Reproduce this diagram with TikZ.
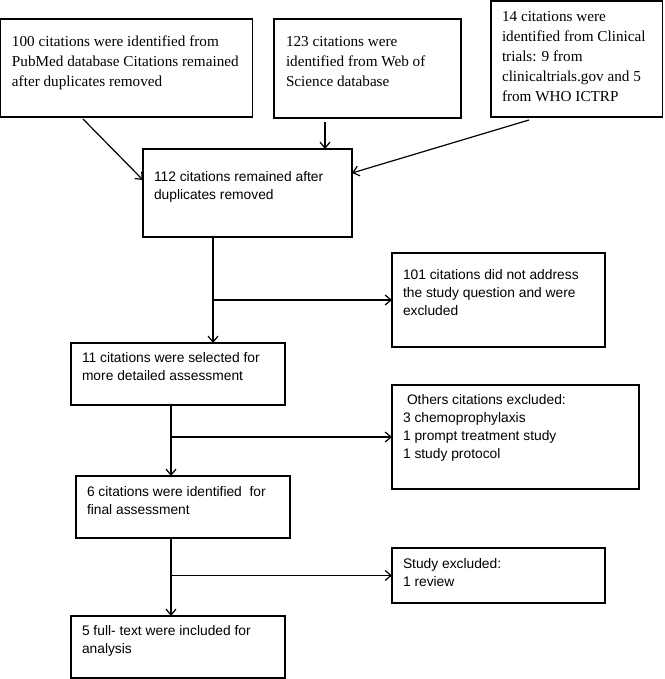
\documentclass[tikz,border=0pt]{standalone}
\usepackage{fontspec}
\setmainfont{Liberation Serif}
\newfontfamily\arialf{Liberation Sans}
\usetikzlibrary{arrows.meta}
\newcommand{\sftxt}[2]{\parbox[t]{#1}{\arialf\fontsize{13.8}{18}\selectfont #2}}
\newcommand{\rmtxt}[2]{\parbox[t]{#1}{\rmfamily\fontsize{15.2}{20}\selectfont #2}}
\begin{document}
\begin{tikzpicture}[x=1pt,y=-1pt,
  box/.style={draw=black, line width=1.1pt, anchor=north west, inner sep=0pt, outer sep=0pt},
  txt/.style={anchor=base west, inner sep=0pt, outer sep=0pt, text=black},
  conn/.style={line width=1.2pt, -{Straight Barb[length=6pt,width=10pt]}}]
\fill[white] (0,0) rectangle (664,679);
\useasboundingbox (0,0) rectangle (664,679);
% top row
\node[box, minimum width=252pt, minimum height=98pt] (pub) at (0.7,19) {};
\node[txt] (pubt) at (12,47) {\rmtxt{238pt}{100 citations were identified from\\PubMed database Citations remained\\after duplicates removed}};
\node[box, minimum width=187pt, minimum height=99pt] (wos) at (274,19) {};
\node[txt] (wost) at (286,47) {\rmtxt{170pt}{123 citations were\\identified from Web of\\Science database}};
\node[box, minimum width=171.5pt, minimum height=116pt] (ct) at (491,1) {};
\node[txt] (ctt) at (502,22) {\rmtxt{158pt}{14 citations were\\identified from Clinical\\trials: 9 from\\clinicaltrials.gov and 5\\from WHO ICTRP}};
% middle
\node[box, minimum width=209pt, minimum height=88pt] (r112) at (143,149) {};
\node[txt] (r112t) at (154,181) {\sftxt{195pt}{112 citations remained after\\duplicates removed}};
\node[box, minimum width=213pt, minimum height=94pt] (e101) at (392,253) {};
\node[txt] (e101t) at (403,279) {\sftxt{200pt}{101 citations did not address\\the study question and were\\excluded}};
\node[box, minimum width=214pt, minimum height=62pt] (s11) at (71,343) {};
\node[txt] (s11t) at (82,362) {\sftxt{200pt}{11 citations were selected for\\more detailed assessment}};
\node[box, minimum width=247pt, minimum height=104pt] (oth) at (392,385) {};
\node[txt] (otht) at (403,404) {\sftxt{230pt}{\hspace*{4pt}Others citations excluded:\\3 chemoprophylaxis\\1 prompt treatment study\\1 study protocol}};
\node[box, minimum width=214pt, minimum height=62pt] (f6) at (76,476) {};
\node[txt] (f6t) at (87,496) {\sftxt{200pt}{6 citations were identified~ for\\final assessment}};
\node[box, minimum width=213pt, minimum height=55pt] (se) at (392,548) {};
\node[txt] (set) at (403,568) {\sftxt{200pt}{Study excluded:\\1 review}};
\node[box, minimum width=214pt, minimum height=62pt] (ft5) at (71,616) {};
\node[txt] (ft5t) at (82,635) {\sftxt{200pt}{5 full- text were included for\\analysis}};
% connectors
\draw[conn] ([xshift=82.3pt,yshift=-2pt]pub.south west) -- ([yshift=-31pt]r112.north west);
\draw[conn] ([xshift=51pt,yshift=-4pt]wos.south west) -- ([xshift=182pt]r112.north west);
\draw[conn] ([xshift=38pt,yshift=-3pt]ct.south west) -- ([yshift=-24pt]r112.north east);
\coordinate (j1) at ([xshift=70pt]r112.south west);
\draw[conn] (j1) -- ([xshift=142pt]s11.north west);
\draw[conn] (j1 |- e101.west) -- (e101.west);
\coordinate (j2) at ([xshift=100pt]s11.south west);
\draw[conn] (j2) -- ([xshift=95pt]f6.north west);
\draw[conn] (j2 |- oth.west) -- (oth.west);
\coordinate (j3) at ([xshift=95pt]f6.south west);
\draw[conn] (j3) -- ([xshift=100pt]ft5.north west);
\draw[conn] (j3 |- se.west) -- (se.west);
\end{tikzpicture}
\end{document}
